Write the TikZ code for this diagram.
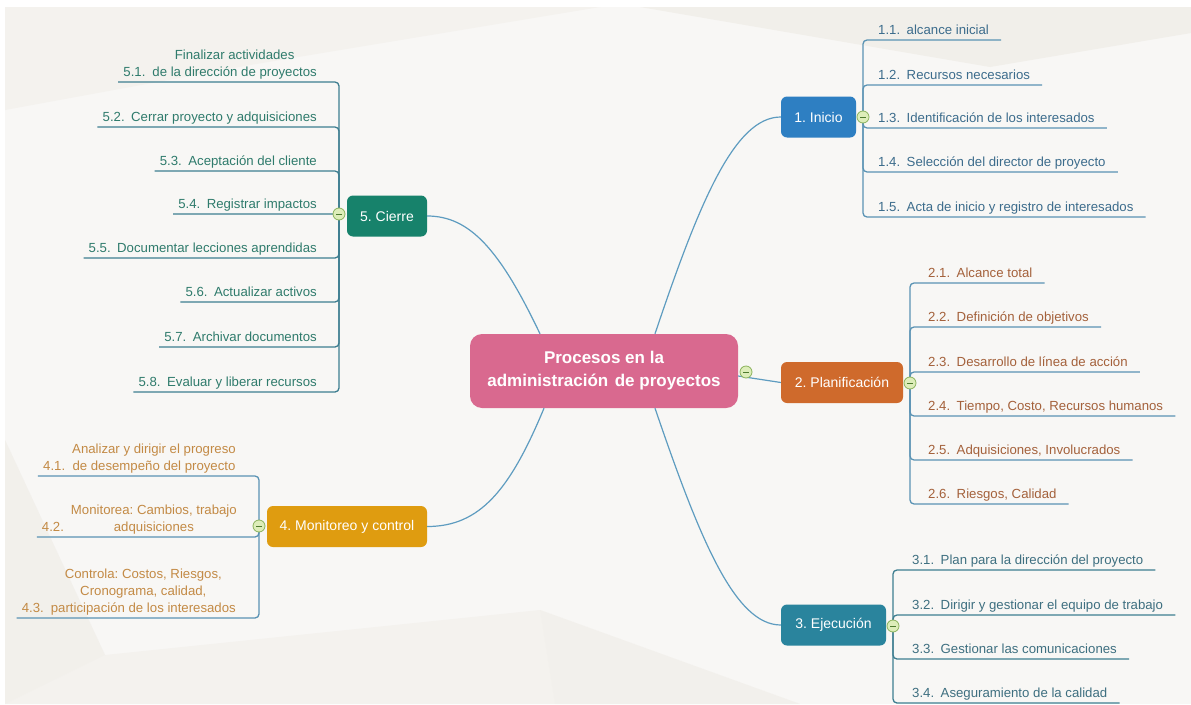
\documentclass[tikz,border=0pt]{standalone}
\usepackage{fontspec}
\setmainfont{Liberation Sans}
\usetikzlibrary{calc}
\frenchspacing

% palette
\definecolor{paper}{HTML}{F8F7F5}
\definecolor{shadeA}{HTML}{F1EFEA}
\definecolor{shadeB}{HTML}{F4F2EE}
\definecolor{rootfill}{HTML}{D9698F}
\definecolor{inifill}{HTML}{2E7FC2}
\definecolor{planfill}{HTML}{CF6A2C}
\definecolor{ejefill}{HTML}{2A849D}
\definecolor{cierfill}{HTML}{17826B}
\definecolor{monfill}{HTML}{DF9C10}
\definecolor{initext}{HTML}{3C6C8C}
\definecolor{plantext}{HTML}{A4613B}
\definecolor{ejetext}{HTML}{3E6F80}
\definecolor{ciertext}{HTML}{2F7B6C}
\definecolor{montext}{HTML}{C38A45}
\definecolor{curve}{HTML}{5E9CC0}
\definecolor{twigblue}{HTML}{5A93B4}
\definecolor{twigteal}{HTML}{3E7E90}
\definecolor{knobfill}{HTML}{DDEDB9}
\definecolor{knobline}{HTML}{8BB35C}
\definecolor{knobminus}{HTML}{4E7A2E}

\newcommand\lsp{\hspace{6.5pt}}
\newcommand\blk[2]{#1\hspace{7pt}\begin{tabular}[b]{@{}c@{}}#2\end{tabular}}

\tikzset{
  topic/.style={rounded corners=6pt, minimum height=41pt, inner sep=0pt,
    text=white, font=\fontsize{14}{16}\selectfont},
  rootbox/.style={rounded corners=12pt, minimum width=268pt, minimum height=74pt,
    inner sep=0pt, fill=rootfill, text=white, align=center,
    font=\bfseries\fontsize{17}{23}\selectfont},
  knob/.style={circle, minimum size=12pt, inner sep=0pt, fill=knobfill,
    draw=knobline, line width=0.8pt,
    path picture={\draw[knobminus, line width=0.9pt]
      ([xshift=-3pt]path picture bounding box.center) --
      ([xshift=3pt]path picture bounding box.center);}},
  kid/.style={inner sep=0pt, font=\fontsize{13.2}{17}\selectfont},
  link/.style={draw=curve, line width=1.2pt},
  twig/.style={line width=1.3pt, rounded corners=4pt},
}

\begin{document}
\begin{tikzpicture}[x=1pt,y=-1pt]
\useasboundingbox (0,0) rectangle (1191,704);

% backdrop with faint facets
\fill[white] (0,0) rectangle (1191,704);
\fill[paper] (5,7) rectangle (1191,704);
\fill[shadeB] (5,7) -- (600,7) -- (250,65) -- (5,110) -- cycle;
\fill[shadeA] (640,7) -- (1191,7) -- (1191,33) -- (990,67) -- cycle;
\fill[shadeB] (5,440) -- (105,655) -- (540,610) -- (800,704) -- (5,704) -- cycle;
\fill[shadeA, opacity=0.5] (5,440) -- (105,655) -- (5,704) -- cycle;
\fill[shadeA, opacity=0.4] (540,610) -- (555,704) -- (800,704) -- cycle;

% central topic and main topics
\node[rootbox] (root) at (604,371) {Procesos en la\\administración\lsp de proyectos};
\node[topic, fill=inifill, minimum width=75pt] (ini) at (818.5,117) {1. Inicio};
\node[topic, fill=planfill, minimum width=122pt] (plan) at (842,382.5) {2. Planificación};
\node[topic, fill=ejefill, minimum width=105pt] (eje) at (833.5,625) {3. Ejecución};
\node[topic, fill=monfill, minimum width=160pt] (mon) at (347,526.5) {4. Monitoreo y control};
\node[topic, fill=cierfill, minimum width=80pt] (cier) at (387,216) {5. Cierre};

% links from the central topic
\draw[link] ($(root.north)+(51,0)$) .. controls (700,200) and (735,117) .. (ini.west);
\draw[link] ($(root.east)+(0,5)$) -- (plan.west);
\draw[link] ($(root.south)+(51,0)$) .. controls (700,540) and (735,625) .. (eje.west);
\draw[link] ($(root.north)+(-64,0)$) .. controls (500,250) and (470,216) .. (cier.east);
\draw[link] ($(root.south)+(-60,0)$) .. controls (510,490) and (480,526.5) .. (mon.east);

% collapse knobs
\coordinate (kR) at (746,372);
\coordinate (k1) at (863,117);
\coordinate (k2) at (910,383);
\coordinate (k3) at (893,626);
\coordinate (k4) at (259,526);
\coordinate (k5) at (339,214);

% 1. Inicio
\begin{scope}[every node/.style={kid, text=initext, anchor=base west}]
\node (a1) at (878,34)  {1.1.\lsp alcance inicial};
\node (a2) at (878,79)  {1.2.\lsp Recursos necesarios};
\node (a3) at (878,122) {1.3.\lsp Identificación de los interesados};
\node (a4) at (878,166) {1.4.\lsp Selección del director de proyecto};
\node (a5) at (878,211) {1.5.\lsp Acta de inicio y registro de interesados};
\end{scope}
\foreach \n in {a1,a2,a3,a4,a5}
  \draw[twig, twigblue] (k1) |- ($(\n.base east)+(12,6)$);

% 2. Planificación
\begin{scope}[every node/.style={kid, text=plantext, anchor=base west}]
\node (b1) at (928,277) {2.1.\lsp Alcance total};
\node (b2) at (928,321) {2.2.\lsp Definición de objetivos};
\node (b3) at (928,366) {2.3.\lsp Desarrollo de línea de acción};
\node (b4) at (928,410) {2.4.\lsp Tiempo, Costo, Recursos humanos};
\node (b5) at (928,454) {2.5.\lsp Adquisiciones, Involucrados};
\node (b6) at (928,498) {2.6.\lsp Riesgos, Calidad};
\end{scope}
\foreach \n in {b1,b2,b3,b4,b5,b6}
  \draw[twig, twigblue] (k2) |- ($(\n.base east)+(12,6)$);

% 3. Ejecución
\begin{scope}[every node/.style={kid, text=ejetext, anchor=base west}]
\node (c1) at (912,564) {3.1.\lsp Plan para la dirección del proyecto};
\node (c2) at (912,609) {3.2.\lsp Dirigir y gestionar el equipo de trabajo};
\node (c3) at (912,653) {3.3.\lsp Gestionar las comunicaciones};
\node (c4) at (912,697) {3.4.\lsp Aseguramiento de la calidad};
\end{scope}
\foreach \n in {c1,c2,c3,c4}
  \draw[twig, twigteal] (k3) |- ($(\n.base east)+(12,6)$);

% 5. Cierre
\begin{scope}[every node/.style={kid, text=ciertext, anchor=base east}]
\node (e1) at (317,76)  {\blk{5.1.}{Finalizar actividades\\de la dirección de proyectos}};
\node (e2) at (317,121) {5.2.\lsp Cerrar proyecto y adquisiciones};
\node (e3) at (317,165) {5.3.\lsp Aceptación del cliente};
\node (e4) at (317,208) {5.4.\lsp Registrar impactos};
\node (e5) at (317,252) {5.5.\lsp Documentar lecciones aprendidas};
\node (e6) at (317,296) {5.6.\lsp Actualizar activos};
\node (e7) at (317,341) {5.7.\lsp Archivar documentos};
\node (e8) at (317,386) {5.8.\lsp Evaluar y liberar recursos};
\end{scope}
\foreach \n in {e1,e2,e3,e4,e5,e6,e7,e8}
  \draw[twig, twigteal] (k5) |- ($(\n.base west)+(-5,6)$);

% 4. Monitoreo y control
\begin{scope}[every node/.style={kid, text=montext, anchor=base east}]
\node (d1) at (236,470) {\blk{4.1.}{Analizar y dirigir el progreso\\de desempeño del proyecto}};
\node (d2) at (237,531) {\blk{4.2.}{Monitorea: Cambios, trabajo\\adquisiciones}};
\node (d3) at (236,612) {\blk{4.3.}{Controla: Costos, Riesgos,\\Cronograma, calidad,\\participación de los interesados}};
\end{scope}
\foreach \n in {d1,d2,d3}
  \draw[twig, twigblue] (k4) |- ($(\n.base west)+(-5,6)$);

% knobs drawn last so they sit on the lines
\foreach \k in {kR,k1,k2,k3,k4,k5}
  \node[knob] at (\k) {};
\end{tikzpicture}
\end{document}
